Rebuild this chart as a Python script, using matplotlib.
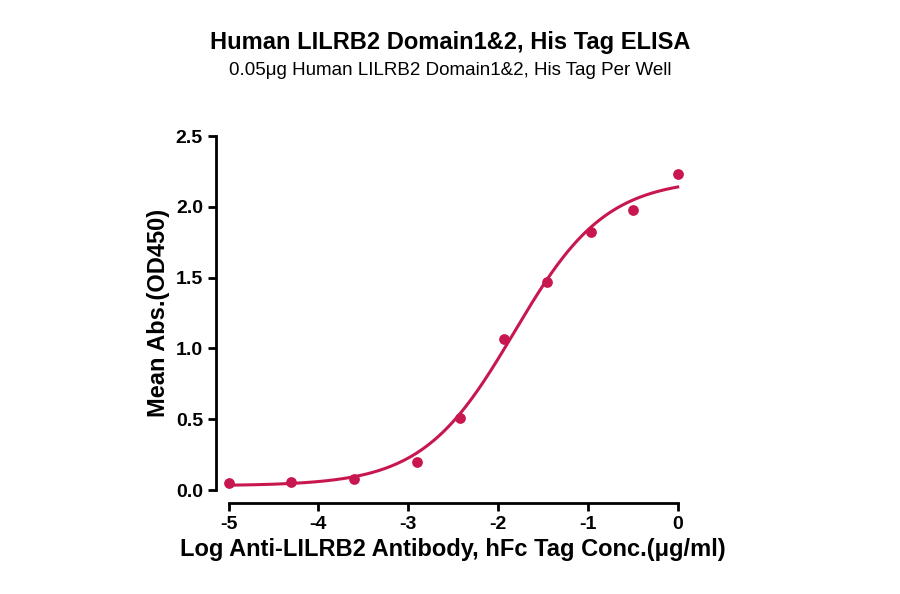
import numpy as np
import matplotlib
matplotlib.use("Agg")
import matplotlib.pyplot as plt
plt.rcParams["font.family"] = ["Liberation Sans", "DejaVu Sans"]
plt.rcParams["axes.unicode_minus"] = False

# data
log_conc = [-5.0, -4.3, -3.6, -2.9, -2.42, -1.93, -1.46, -0.96, -0.5, 0.0]
od450 = [0.05, 0.06, 0.08, 0.20, 0.51, 1.07, 1.47, 1.82, 1.98, 2.23]

# 4PL fit parameters (estimated)
bottom, top, log_ec50, hill = 0.03, 2.2, -1.82, 0.85

color = "#C8164E"
fig = plt.figure(figsize=(9, 5.94), dpi=100)
ax = fig.add_axes([0.254, 0.175, 0.499, 0.596])

xs = np.linspace(-5, 0, 300)
ys = bottom + (top - bottom) / (1 + 10 ** (hill * (log_ec50 - xs)))
ax.plot(xs, ys, color=color, lw=2.2, clip_on=False)
ax.scatter(log_conc, od450, color=color, s=45, zorder=3, clip_on=False)

ax.set_xlim(-5, 0)
ax.set_ylim(0, 2.5)
ax.set_xticks(range(-5, 1))
ax.set_yticks([0, 0.5, 1.0, 1.5, 2.0, 2.5])
ax.set_yticklabels(["0.0", "0.5", "1.0", "1.5", "2.0", "2.5"])
for s in ["top", "right"]:
    ax.spines[s].set_visible(False)
ax.spines["left"].set_position(("outward", 9))
ax.spines["bottom"].set_position(("outward", 9))
for s in ["left", "bottom"]:
    ax.spines[s].set_linewidth(2)
ax.tick_params(width=2, length=6, labelsize=14)
for lbl in ax.get_xticklabels() + ax.get_yticklabels():
    lbl.set_fontweight("bold")

ax.set_xlabel("Log Anti-LILRB2 Antibody, hFc Tag Conc.(μg/ml)", fontsize=17, fontweight="bold")
ax.set_ylabel("Mean Abs.(OD450)", fontsize=17, fontweight="bold")
fig.text(0.5, 0.928, "Human LILRB2 Domain1&2, His Tag ELISA", ha="center", va="center",
         fontsize=17, fontweight="bold")
fig.text(0.5, 0.882, "0.05μg Human LILRB2 Domain1&2, His Tag Per Well", ha="center",
         va="center", fontsize=13.5)

fig.savefig("out.png", dpi=100)
